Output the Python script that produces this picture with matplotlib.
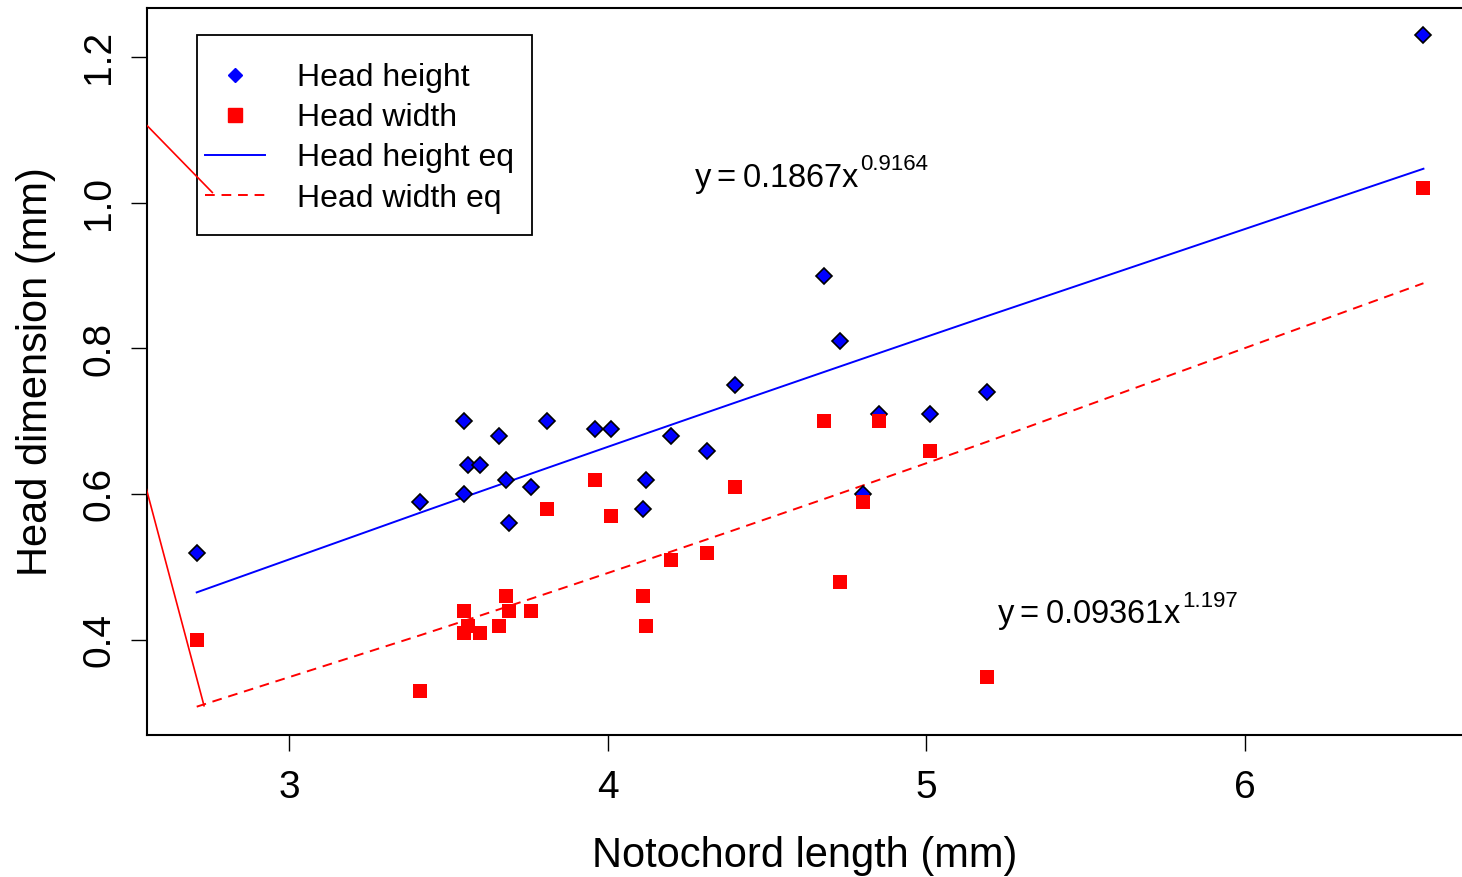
import numpy as np
import matplotlib
matplotlib.use("Agg")
import matplotlib.pyplot as plt
from matplotlib.lines import Line2D
from matplotlib.patches import Rectangle

# Notochord length (mm) and head dimensions (mm)
notochord = [2.71, 3.41, 3.55, 3.55, 3.56, 3.60, 3.66, 3.68, 3.69, 3.76, 3.81, 3.96, 4.01,
             4.11, 4.12, 4.20, 4.31, 4.40, 4.68, 4.73, 4.80, 4.85, 5.01, 5.19, 6.56]
head_height = [0.52, 0.59, 0.70, 0.60, 0.64, 0.64, 0.68, 0.62, 0.56, 0.61, 0.70, 0.69, 0.69,
               0.58, 0.62, 0.68, 0.66, 0.75, 0.90, 0.81, 0.60, 0.71, 0.71, 0.74, 1.23]
head_width = [0.40, 0.33, 0.44, 0.41, 0.42, 0.41, 0.42, 0.46, 0.44, 0.44, 0.58, 0.62, 0.57,
              0.46, 0.42, 0.51, 0.52, 0.61, 0.70, 0.48, 0.59, 0.70, 0.66, 0.35, 1.02]

# power fits printed on the chart: y = a * x^b
height_a, height_b = 0.1867, 0.9164
width_a, width_b = 0.09361, 1.197

# stray red segments visible at the left edge of the plot
stray1_x = [2.50, 2.759]
stray1_y = [1.130, 1.014]
stray2_x = [2.52, 2.733]
stray2_y = [0.66, 0.310]

plt.rcParams['font.family'] = ['Liberation Sans', 'DejaVu Sans']
plt.rcParams['mathtext.default'] = 'regular'

W, H = 1462, 877
fig = plt.figure(figsize=(W / 100, H / 100), dpi=100)
ax = fig.add_axes([147 / W, 1 - 735 / H, 1315 / W, 727 / H])

def px2ax(px, py):
    # figure pixel -> axes fraction
    return (px - 147) / 1315, (735 - py) / 727

xs = np.unique(notochord)
ax.plot(xs, height_a * xs ** height_b, color='blue', lw=1.4, zorder=2)
ax.plot(xs, width_a * xs ** width_b, color='red', lw=1.4, ls=(0, (5, 3.5)), zorder=2)

ax.plot(notochord, head_height, ls='none', marker='D', ms=8.2, mfc='blue',
        mec='black', mew=1.2, zorder=3)
ax.plot(notochord, head_width, ls='none', marker='s', ms=9.8, mfc='red',
        mec='red', mew=0, zorder=4)

ax.plot(stray1_x, stray1_y, color='red', lw=1.2, zorder=7)
ax.plot(stray2_x, stray2_y, color='red', lw=1.2, zorder=7)

# fitted equations: main part plus a small raised exponent
def equation(x, y, a, b):
    t = ax.text(x, y, r'$y = %sx$' % a, fontsize=23.5, va='baseline')
    ax.annotate(str(b), xy=(1.0, 0.74), xycoords=t, fontsize=16, va='baseline',
                ha='left', xytext=(0.5, 0), textcoords='offset points')

equation(4.271, 1.022, height_a, height_b)
equation(5.222, 0.423, width_a, width_b)

ax.set_xlim(2.554, 6.681)
ax.set_ylim(0.2699, 1.267)
ax.set_xticks([3, 4, 5, 6])
ax.set_yticks([0.4, 0.6, 0.8, 1.0, 1.2])
ax.set_yticklabels(['0.4', '0.6', '0.8', '1.0', '1.2'], rotation=90, va='center')
ax.tick_params(direction='out', length=11.5, width=1, labelsize=28, pad=10)
ax.tick_params(axis='x', pad=14)

ax.set_xlabel('Notochord length (mm)', fontsize=30, labelpad=21)
ax.set_ylabel('Head dimension (mm)', fontsize=30, labelpad=18)

for side in ['left', 'bottom', 'top']:
    ax.spines[side].set_linewidth(1.5)
ax.spines['right'].set_visible(False)

# legend box drawn separately so the padding matches the original
bx0, by0 = px2ax(197, 235)
bx1, by1 = px2ax(532, 35)
ax.add_patch(Rectangle((bx0, by0), bx1 - bx0, by1 - by0, transform=ax.transAxes,
                       facecolor='white', edgecolor='black', lw=1.3, zorder=5))

handles = [
    Line2D([], [], ls='none', marker='D', ms=7, mfc='blue', mec='blue'),
    Line2D([], [], ls='none', marker='s', ms=9.8, mfc='red', mec='red'),
    Line2D([], [], color='blue', lw=1.4),
    Line2D([], [], color='red', lw=1.4, ls=(0, (5, 3.5))),
]
labels = ['Head height', 'Head width', 'Head height eq', 'Head width eq']
leg = ax.legend(handles, labels, loc='upper left', bbox_to_anchor=px2ax(205, 63),
                borderaxespad=0, borderpad=0, fontsize=23, frameon=False,
                handlelength=1.88, handletextpad=1.0, labelspacing=0.32)
leg.set_zorder(6)

fig.savefig('out.png', dpi=100)
